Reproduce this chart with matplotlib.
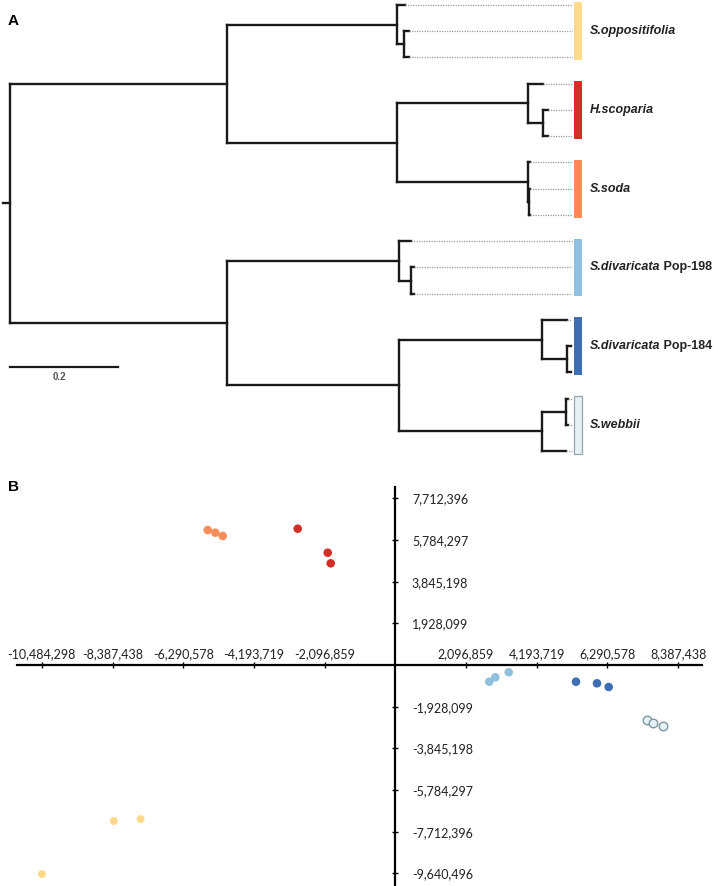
import matplotlib
matplotlib.use("Agg")
import matplotlib.pyplot as plt
from matplotlib.patches import Rectangle
from matplotlib.collections import LineCollection

# ---------------- Panel A data (tree with branch lengths) ----------------
newick = ("(((opp1:0.014,(opp2:0.009,opp3:0.009):0.013):0.315,"
          "((H1:0.028,(H2:0.009,H3:0.009):0.028):0.242,"
          "(soda1:0.004,(soda2:0.002,soda3:0.002):0.002):0.242):0.315):0.402,"
          "((p198a:0.023,(p198b:0.005,p198c:0.005):0.023):0.318,"
          "((p184a:0.046,(p184b:0.008,p184c:0.008):0.046):0.265,"
          "((wa:0.003,wb:0.003):0.045,wc:0.045):0.265):0.318):0.402);")
group_italic = ["S.oppositifolia", "H.scoparia", "S.soda",
                "S.divaricata", "S.divaricata", "S.webbii"]
group_suffix = ["", "", "", " Pop-198", " Pop-184", ""]
group_colors = ["#fddb88", "#d42f27", "#f98b58", "#8fc1de", "#3e6db3", "#e6f1f7"]
group_edges = ["none", "none", "none", "none", "none", "#97a6ad"]
leaves_per_group = 3
scale_bar_value = 0.2
align_x = 1.041

# ---------------- Panel B data (PCoA coordinates) ----------------
soda_x = [-5564000, -5338500, -5119000]
soda_y = [6246000, 6121500, 5968800]
hsco_x = [-2894700, -2004900, -1915900]
hsco_y = [6306600, 5196100, 4705700]
p198_x = [2787900, 2965900, 3363300]
p198_y = [-772700, -569100, -337800]
p184_x = [5359300, 5982100, 6329100]
p184_y = [-772700, -846700, -1017900]
webb_x = [7453200, 7628200, 7939600]
webb_y = [-2544900, -2697600, -2822500]
oppo_x = [-8348900, -7551100, -10481300]
oppo_y = [-7218200, -7125600, -9670500]

x_tick_step = 2096859.6
y_tick_step = 1928099
x_tick_k = [-5, -4, -3, -2, -1, 1, 2, 3, 4]
x_tick_labels = ["-10,484,298", "-8,387,438", "-6,290,578", "-4,193,719", "-2,096,859",
                 "2,096,859", "4,193,719", "6,290,578", "8,387,438"]
y_tick_k = [4, 3, 2, 1, -1, -2, -3, -4, -5]
y_tick_labels = ["7,712,396", "5,784,297", "3,845,198", "1,928,099", "-1,928,099",
                 "-3,845,198", "-5,784,297", "-7,712,396", "-9,640,496"]


def parse_newick(s):
    pos = 0

    def node():
        nonlocal pos
        children = []
        if s[pos] == "(":
            pos += 1
            while True:
                children.append(node())
                if s[pos] == ",":
                    pos += 1
                    continue
                if s[pos] == ")":
                    pos += 1
                    break
        start = pos
        while pos < len(s) and s[pos] not in ":,);":
            pos += 1
        name = s[start:pos]
        length = 0.0
        if pos < len(s) and s[pos] == ":":
            pos += 1
            start = pos
            while s[pos] not in ",);":
                pos += 1
            length = float(s[start:pos])
        return {"name": name, "children": children, "len": length}

    return node()


tree = parse_newick(newick)
segments = []
tips = []
counter = [0]


def layout(nd, x0):
    x = x0 + nd["len"]
    if not nd["children"]:
        y = counter[0]
        counter[0] += 1
        tips.append((x, y))
    else:
        ys = [layout(c, x) for c in nd["children"]]
        y = (min(ys) + max(ys)) / 2
        segments.append([(x, min(ys)), (x, max(ys))])
    if nd["len"] > 0:
        segments.append([(x0, y), (x, y)])
    return y


root_y = layout(tree, 0.0)

W, H = 714, 886
fig = plt.figure(figsize=(W / 100, H / 100), dpi=100)

# ---------------- Panel A ----------------
axa = fig.add_axes([0, 1 - 460 / H, 1, 460 / H])
axa.set_xlim(-10 / 540, 704 / 540)
axa.set_ylim((460 - 5) / 26.24, -5 / 26.24)
axa.axis("off")

segments.append([(-0.013, root_y), (0.0, root_y)])
lc = LineCollection(segments, colors="#1a1a1a", linewidths=1.7, capstyle="projecting")
axa.add_collection(lc)

for (tx, ty) in tips:
    if align_x - tx > 0.006:
        axa.plot([tx, align_x], [ty, ty], color="#9a9a9a", lw=0.9, ls=(0, (1, 1)))

for g in range(len(group_italic)):
    y0 = g * leaves_per_group - 0.1
    y1 = (g + 1) * leaves_per_group - 1 + 0.1
    axa.add_patch(Rectangle((1.044, y0), 0.015, y1 - y0, facecolor=group_colors[g],
                            edgecolor=group_edges[g], lw=0.9))
    ymid = (y0 + y1) / 2
    t1 = axa.text(1.074, ymid, group_italic[g], fontsize=9, fontweight="bold",
                  fontstyle="italic", family="Liberation Sans", color="#222222",
                  va="center", ha="left")
    if group_suffix[g]:
        axa.annotate(group_suffix[g], xy=(1, 0), xycoords=t1, va="bottom", ha="left",
                     fontsize=9, fontweight="bold", family="Liberation Sans",
                     color="#222222")

bar_y = (367 - 5) / 26.24
axa.plot([0, scale_bar_value], [bar_y, bar_y], color="#1a1a1a", lw=1.6)
axa.text(0.092, (376.5 - 5) / 26.24, f"{scale_bar_value}", fontsize=7, color="#555555",
         fontweight="bold", ha="center", va="center", family="Liberation Sans")

fig.text(8 / W, 1 - 25 / H, "A", fontsize=11, fontweight="bold", family="Liberation Sans",
         va="baseline", ha="left")
fig.text(8 / W, 1 - 491 / H, "B", fontsize=11, fontweight="bold", family="Liberation Sans",
         va="baseline", ha="left")

# ---------------- Panel B ----------------
axb = fig.add_axes([0, 0, 1, 416 / H])
px_x = 2096859.6 / 70.7
px_y = 1928099 / 41.67
axb.set_xlim(-395.3 * px_x, (714 - 395.3) * px_x)
axb.set_ylim(-221 * px_y, 195 * px_y)
axb.patch.set_visible(False)
for side in ["left", "right", "top", "bottom"]:
    axb.spines[side].set_position(("data", 0))
axb.spines["right"].set_visible(False)
axb.spines["top"].set_visible(False)
axb.spines["left"].set_linewidth(1.6)
axb.spines["bottom"].set_linewidth(1.6)
axb.spines["left"].set_bounds(-221 * px_y, 178 * px_y)
axb.spines["bottom"].set_bounds(-378 * px_x, 307 * px_x)

axb.set_xticks([k * x_tick_step for k in x_tick_k])
axb.set_xticklabels(x_tick_labels)
axb.set_yticks([k * y_tick_step for k in y_tick_k])
axb.set_yticklabels(y_tick_labels)
axb.tick_params(axis="x", bottom=True, top=False, labelbottom=False, labeltop=True,
                direction="inout", length=5, width=1, pad=1.2, labelsize=9,
                labelcolor="#222222")
axb.tick_params(axis="y", left=True, right=False, labelleft=False, labelright=True,
                direction="inout", length=5, width=1, pad=9.5, labelsize=9,
                labelcolor="#222222")
for lab in axb.get_xticklabels() + axb.get_yticklabels():
    lab.set_family("Lato")

ms = 38
axb.scatter(soda_x, soda_y, s=ms, color="#f98d5a", edgecolors="none", zorder=3)
axb.scatter(hsco_x, hsco_y, s=ms, color="#d42f27", edgecolors="none", zorder=3)
axb.scatter(p198_x, p198_y, s=ms, color="#8fc1de", edgecolors="none", zorder=3)
axb.scatter(p184_x, p184_y, s=ms, color="#3e6db3", edgecolors="none", zorder=3)
axb.scatter(webb_x, webb_y, s=ms, facecolor="#e6f1f7", edgecolors="#7e97a2",
            linewidths=1, zorder=3)
axb.scatter(oppo_x, oppo_y, s=32, color="#fdd886", edgecolors="none", zorder=3)

fig.savefig("out.png", dpi=100)
